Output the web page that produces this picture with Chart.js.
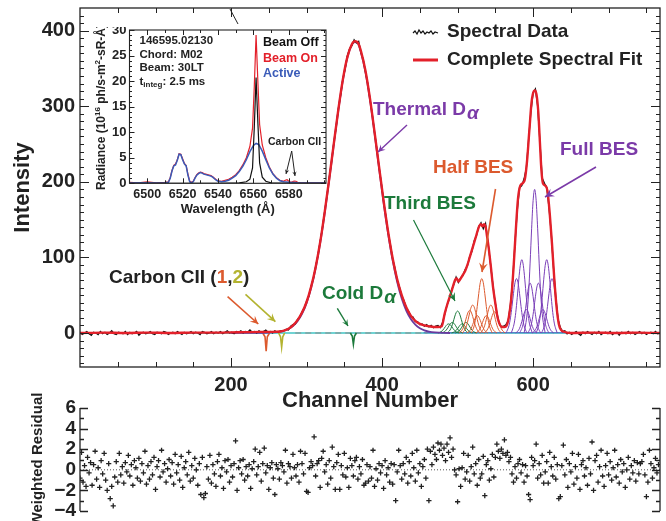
<!DOCTYPE html>
<html>
<head>
<meta charset="utf-8">
<script src="https://cdn.jsdelivr.net/npm/chart.js@4"></script>
<style>
  body { margin: 0; background: #fff; }
  #wrap { position: relative; width: 666px; height: 521px; overflow: hidden; background: #fff; }
  canvas { position: absolute; }
</style>
</head>
<body>
<div id="wrap">
  <canvas id="mainChart" width="666" height="420" style="left:0;top:0;width:666px;height:420px"></canvas>
  <canvas id="residChart" width="666" height="131" style="left:0;top:390px;width:666px;height:131px"></canvas>
  <canvas id="insetChart" width="240" height="195" style="left:92px;top:27px;width:240px;height:195px"></canvas>
</div>
<script>
// ---------- main spectrum ----------
// measured spectrum, one value every 3 channels starting at channel 0
const dataStep = 3;
const spectralData = [
  1, -2, 0, 2, -1, -3, 1, 0, -2, 2,
  -1, 1, -2, 0, 3, -1, -2, 1, 0, -1,
  2, -2, 1, -1, 0, 2, -3, 0, 1, -1,
  0, 2, -1, -2, 1, 0, -1, 2, 1, -2,
  0, 1, -1, 2, 0, -2, 1, -1, 0, 2,
  -1, 1, 0, -2, 2, 1, -1, 0, 2, -1,
  1, 0, 2, -1, 1, 3, 0, 1, -1, 2,
  1, 3, 0, 2, 1, 4, 1, 2, 0, 3,
  1, 2, 4, 1, 2, 0, 3, 1, 2, 3,
  3, 5, 4, 9, 11, 12, 18, 21, 28, 33,
  42, 49, 62, 72, 88, 102, 121, 139, 161, 181,
  205, 226, 251, 271, 296, 314, 336, 349, 367, 376,
  380, 388, 384, 386, 371, 362, 345, 330, 309, 289,
  265, 244, 219, 198, 174, 155, 133, 117, 98, 86,
  70, 61, 49, 43, 33, 29, 22, 21, 15, 15,
  11, 12, 9, 11, 8, 10, 7, 9, 10, 7,
  14, 25, 37, 45, 57, 64, 74, 67, 73, 76,
  84, 89, 101, 108, 122, 129, 141, 146, 138, 145,
  122, 96, 70, 45, 27, 13, 8, 9, 11, 16,
  38, 71, 119, 162, 192, 195, 204, 218, 256, 292,
  318, 323, 300, 253, 205, 198, 193, 166, 132, 86,
  48, 18, 7, 2, 3, -1, 1, -2, 0, 2,
  -1, -3, 1, -1, 2, 0, -2, 1, -1, 2,
  -2, 0, 1, -1, 2, -2, 0, 1, -3, 1,
  0, -1, 2, -1, 1, -2, 0, 2, -1, 1,
  -2, 0, 1, -1, 2, -1, 0
];

// complete spectral fit [channel, intensity]
const spectralFit = [
  [0, 0], [30, 0.5], [60, 0], [90, 0.5], [120, 0], [150, 0.5], [180, 0.5], [210, 1], [240, 1.5],
  [255, 1.5], [265, 2], [270, 3], [276, 5.5], [282, 10], [288, 17], [294, 27], [300, 41], [306, 61],
  [312, 87], [318, 120], [324, 160], [330, 204], [336, 250], [342, 295], [348, 335], [354, 365],
  [360, 382], [364, 386], [368, 384], [372, 373], [378, 347], [384, 310], [390, 266], [396, 220],
  [402, 175], [408, 134], [414, 99], [420, 71], [426, 50], [432, 34], [438, 23], [444, 16], [450, 12],
  [456, 10], [462, 9], [468, 8], [474, 8], [479, 9], [483, 26], [487, 40], [491, 52], [494, 62],
  [497, 71], [499, 72], [501, 68], [504, 72], [507, 77], [510, 82], [513, 90], [516, 100], [519, 110],
  [522, 120], [525, 130], [528, 140], [531, 144], [533, 141], [535, 144], [537, 141], [539, 128],
  [541, 114], [544, 88], [547, 60], [550, 39], [553, 20], [556, 11], [559, 8], [562, 8], [565, 10],
  [568, 22], [571, 45], [574, 85], [577, 135], [580, 178], [583, 195], [586, 198], [589, 203],
  [592, 228], [595, 268], [598, 306], [601, 320], [603, 321], [605, 312], [607, 290], [609, 252],
  [611, 215], [613, 198], [616, 195], [619, 188], [622, 158], [625, 118], [628, 72], [631, 35],
  [634, 12], [637, 4], [640, 2], [650, 0], [680, 0.5], [710, 0], [740, 0.5], [768, 0]
];

const thermalDalpha = [
  [200, 0], [250, 0.5], [270, 2.8], [276, 5.2], [282, 9.2], [288, 15.6], [294, 25.3], [300, 39.5],
  [306, 59.4], [312, 85.7], [318, 118.8], [324, 158.3], [330, 202.6], [336, 249.1], [342, 294.2],
  [348, 333.9], [354, 364.2], [360, 381.6], [364, 385], [368, 383], [372, 371.6], [378, 345.3],
  [384, 308.3], [390, 264.5], [396, 218], [402, 172.6], [408, 131.3], [414, 96], [420, 67.4],
  [426, 45.5], [432, 29.5], [438, 18.4], [444, 11], [450, 6.3], [456, 3.5], [462, 1.9], [470, 0.8], [490, 0]
];

// fitted beam-emission components [channel, intensity]
const thirdBes = [
  [[474, 0], [476, 0.7], [478, 1.6], [480, 3.3], [482, 5.8], [484, 8.7], [486, 11.1], [488, 12], [490, 11.1], [492, 8.7], [494, 5.8], [496, 3.3], [498, 1.6], [500, 0.7], [502, 0]],
  [[479, 0], [481, 0.8], [483, 1.9], [485, 3.9], [487, 6.8], [489, 10.2], [491, 12.9], [493, 14], [495, 12.9], [497, 10.2], [499, 6.8], [501, 3.9], [503, 1.9], [505, 0.8], [507, 0]],
  [[486, 0], [488, 1.6], [490, 3.9], [492, 8.1], [494, 14.1], [496, 21.1], [498, 26.8], [500, 29], [502, 26.8], [504, 21.1], [506, 14.1], [508, 8.1], [510, 3.9], [512, 1.6], [514, 0]],
  [[492, 0], [494, 0.7], [496, 1.6], [498, 3.3], [500, 5.8], [502, 8.7], [504, 11.1], [506, 12], [508, 11.1], [510, 8.7], [512, 5.8], [514, 3.3], [516, 1.6], [518, 0.7], [520, 0]],
  [[497, 0], [499, 0.8], [501, 1.9], [503, 3.9], [505, 6.8], [507, 10.2], [509, 12.9], [511, 14], [513, 12.9], [515, 10.2], [517, 6.8], [519, 3.9], [521, 1.9], [523, 0.8], [525, 0]]
];

const halfBes = [
  [[502, 0], [504, 1.7], [506, 4.1], [508, 8.3], [510, 14.6], [512, 21.8], [514, 27.7], [516, 30], [518, 27.7], [520, 21.8], [522, 14.6], [524, 8.3], [526, 4.1], [528, 1.7], [530, 0]],
  [[506, 0], [508, 2.1], [510, 5], [512, 10.3], [514, 18], [516, 26.9], [518, 34.2], [520, 37], [522, 34.2], [524, 26.9], [526, 18], [528, 10.3], [530, 5], [532, 2.1], [534, 0]],
  [[512, 0], [514, 1.3], [516, 3.1], [518, 6.4], [520, 11.2], [522, 16.7], [524, 21.2], [526, 23], [528, 21.2], [530, 16.7], [532, 11.2], [534, 6.4], [536, 3.1], [538, 1.3], [540, 0]],
  [[518, 0], [520, 4], [522, 9.7], [524, 20], [526, 35.1], [528, 52.3], [530, 66.5], [532, 72], [534, 66.5], [536, 52.3], [538, 35.1], [540, 20], [542, 9.7], [544, 4], [546, 0]],
  [[524, 0], [526, 1.3], [528, 3.1], [530, 6.4], [532, 11.2], [534, 16.7], [536, 21.2], [538, 23], [540, 21.2], [542, 16.7], [544, 11.2], [546, 6.4], [548, 3.1], [550, 1.3], [552, 0]],
  [[530, 0], [532, 2.1], [534, 5], [536, 10.3], [538, 18], [540, 26.9], [542, 34.2], [544, 37], [546, 34.2], [548, 26.9], [550, 18], [552, 10.3], [554, 5], [556, 2.1], [558, 0]],
  [[535, 0], [537, 1.6], [539, 3.8], [541, 7.8], [543, 13.6], [545, 20.3], [547, 25.8], [549, 28], [551, 25.8], [553, 20.3], [555, 13.6], [557, 7.8], [559, 3.8], [561, 1.6], [563, 0]]
];

const fullBes = [
  [[564, 0], [566, 4], [568, 9.7], [570, 20], [572, 35.1], [574, 52.3], [576, 66.5], [578, 72], [580, 66.5], [582, 52.3], [584, 35.1], [586, 20], [588, 9.7], [590, 4], [592, 0]],
  [[571, 0], [573, 5.4], [575, 13.1], [577, 27], [579, 47.2], [581, 70.4], [583, 89.5], [585, 97], [587, 89.5], [589, 70.4], [591, 47.2], [593, 27], [595, 13.1], [597, 5.4], [599, 0]],
  [[577, 0], [579, 1.7], [581, 4.2], [583, 8.6], [585, 15.1], [587, 22.5], [589, 28.6], [591, 31], [593, 28.6], [595, 22.5], [597, 15.1], [599, 8.6], [601, 4.2], [603, 1.7], [605, 0]],
  [[582, 0], [584, 3.7], [586, 8.9], [588, 18.3], [590, 32.1], [592, 47.9], [594, 60.9], [596, 66], [598, 60.9], [600, 47.9], [602, 32.1], [604, 18.3], [606, 8.9], [608, 3.7], [610, 0]],
  [[588, 0], [590, 10.6], [592, 25.7], [594, 52.8], [596, 92.5], [598, 137.9], [600, 175.4], [602, 190], [604, 175.4], [606, 137.9], [608, 92.5], [610, 52.8], [612, 25.7], [614, 10.6], [616, 0]],
  [[593, 0], [595, 3.7], [597, 8.9], [599, 18.3], [601, 32.1], [603, 47.9], [605, 60.9], [607, 66], [609, 60.9], [611, 47.9], [613, 32.1], [615, 18.3], [617, 8.9], [619, 3.7], [621, 0]],
  [[599, 0], [601, 1.7], [603, 4.2], [605, 8.6], [607, 15.1], [609, 22.5], [611, 28.6], [613, 31], [615, 28.6], [617, 22.5], [619, 15.1], [621, 8.6], [623, 4.2], [625, 1.7], [627, 0]],
  [[604, 0], [606, 5.4], [608, 13.1], [610, 27], [612, 47.2], [614, 70.4], [616, 89.5], [618, 97], [620, 89.5], [622, 70.4], [624, 47.2], [626, 27], [628, 13.1], [630, 5.4], [632, 0]],
  [[611, 0], [613, 4], [615, 9.7], [617, 20], [619, 35.1], [621, 52.3], [623, 66.5], [625, 72], [627, 66.5], [629, 52.3], [631, 35.1], [633, 20], [635, 9.7], [637, 4], [639, 0]]
];

const carbonLine1 = [[242, 0], [245, -5], [246.5, -24], [248, -5], [251, 0]];
const carbonLine2 = [[263, 0], [265.5, -5], [267, -19], [268.5, -5], [271, 0]];
const coldDalpha = [[358, 0], [360.5, -4], [362, -15], [363.5, -4], [366, 0]];
const cyanBaseline = [[60, 0], [768, 0]];
const grayBaseline = [[285, 0], [460, 0]];
const blueBaseline = [[455, 0.3], [650, 0.3]];

// weighted residual, one value every 2 channels starting at channel 0
const residualStep = 2;
const weightedResidual = [
  -0.8, 1.7, -1.2, 0.4, -1.6, 1.2, -0.3, 0.7, -1.5, 0.5, 1.8, -0.9, 0.2, -1.7, 0.9, -0.4,
  1.6, -1.0, -2.0, 0.6, -2.8, -1.6, -3.5, -0.7, 0.8, -1.2, 1.6, -0.5, 0.3, -1.3, 0.7, -0.2,
  1.4, -0.6, 0.5, -1.5, 0.9, 0.2, -0.8, 1.1, -1.1, 0.6, -0.3, 1.8, -1.4, 0.4, -0.9, 0.8,
  -0.5, 1.2, -1.9, 0.3, 0.9, -0.7, 1.9, -0.2, 0.6, -1.2, 0.1, 1.0, -0.6, 0.7, -1.4, 1.5,
  -0.3, 0.5, -1.0, 1.3, -1.7, 0.2, 0.8, -0.5, 1.7, -1.1, 0.4, -0.8, 1.1, 0.0, -1.5, 0.6,
  -2.4, 1.2, -2.7, -2.3, 0.3, -0.9, 1.4, -1.3, 0.5, -0.4, -1.6, 0.8, 1.5, -0.6, 0.2, -1.8,
  0.9, -0.2, 1.0, -1.2, 0.4, -0.7, 0.6, 2.8, -2.0, 0.2, 0.9, -0.4, 1.0, -1.0, 0.3, -0.6,
  0.5, -1.8, 0.1, 0.8, 2.0, -0.5, 0.3, 1.7, -1.1, 0.6, 2.1, -0.3, 0.4, -1.9, 0.2, 0.7,
  -0.8, -2.4, 0.5, 0.1, -0.9, 0.7, 0.4, -0.2, 1.9, -1.3, 0.6, 0.3, -0.8, 1.5, 0.2, -0.6,
  0.5, -1.2, 1.8, 0.6, -0.4, 1.6, -2.1, -2.2, 0.2, 0.8, 0.4, 3.2, -0.6, 0.6, 0.9, -1.7,
  1.1, 1.8, -0.2, 0.5, -1.4, 0.9, -0.8, 2.2, 0.3, -1.9, 0.7, 1.5, -1.9, 0.4, -0.5, 1.6,
  -0.7, 0.2, -1.7, 1.1, 0.4, -0.6, 0.9, 1.2, -0.9, 0.3, -0.4, 1.0, -1.5, -1.3, 0.5, -1.1,
  0.3, -0.8, 1.9, -1.6, 0.1, -1.0, 0.6, -0.3, 0.4, -1.8, 0.9, -0.5, 0.2, -1.2, 0.6, -1.4,
  0.5, -3.0, -0.2, 1.9, 0.4, -0.9, 0.6, -0.4, 1.2, -1.3, 0.8, -0.6, 1.6, 0.2, -1.1, 1.9,
  -0.3, 0.6, -1.6, 0.3, 1.0, -0.8, 2.0, -3.0, 1.8, 0.5, 2.2, 1.5, 1.0, 2.6, 1.9, 2.5,
  1.4, 2.1, 0.9, 2.5, 1.7, 3.1, 1.2, 2.0, 0.0, -0.5, -3.1, 0.1, -1.6, 0.2, 1.6, -0.9,
  -0.2, 1.4, -1.1, 0.3, 2.2, -0.4, 0.6, -1.5, 1.0, -0.8, -0.4, 1.3, -2.5, 0.5, 0.9, -1.0,
  0.1, 1.5, -0.7, 1.2, 2.5, 1.8, 1.1, 2.0, 1.6, 2.9, 1.4, 1.7, 0.8, 1.2, -0.4, -1.2,
  0.3, -0.8, 0.6, 1.0, -0.3, 0.5, -1.2, 0.4, -0.6, -2.4, -2.9, 1.2, 0.4, 0.9, 2.5, -0.8,
  0.6, -0.5, 1.4, -1.3, -0.2, 0.8, -1.3, 1.7, 0.3, -0.6, 1.2, -0.9, 0.5, -2.8, -2.6, 0.4,
  2.4, -0.5, 1.0, -1.7, 0.6, -0.2, 1.6, -1.4, 0.3, -0.8, 1.5, -1.9, 0.5, 0.9, -0.6, 0.2,
  -1.5, 1.1, -0.4, 2.7, -2.0, 0.9, 1.4, -1.2, 0.3, 1.9, -0.6, -1.6, 0.4, 1.6, -0.5, 0.8,
  -1.0, 0.2, 1.9, -0.7, 0.5, -1.3, 1.0, -0.2, 0.6, -1.7, 0.0, 1.2, -0.9, 0.4, -0.3, 0.9,
  -1.1, 0.7, -0.4, 0.6, 0.8, 1.5, -0.5, -2.6, -1.2, 1.9, 0.6, -0.8, 0.2, 1.1, -0.3, 0.5
];

const channelTicks = [200, 400, 600];
const intensityTicks = [0, 100, 200, 300, 400];
const residualTicks = [-4, -2, 0, 2, 4, 6];

// ---------- inset: radiance vs wavelength ----------
const beamOff = [
  [6490, 0], [6540, 0], [6552, 0.1], [6556, 0.3], [6558, 0.8], [6559.5, 3], [6560.5, 11], [6561.5, 20.7],
  [6562.5, 12], [6563.5, 4], [6565, 1.2], [6567, 0.4], [6570, 0.1], [6580, 0], [6601, 0]
];
const beamOn = [
  [6490, 0.2], [6495, 0.1], [6500, 0.3], [6505, 0.1], [6510, 0.2], [6512, 0.3], [6513, 1.1], [6514, 2.5],
  [6515, 3.5], [6516, 3.8], [6517, 4.6], [6518, 5.8], [6519, 5.7], [6520, 4.8], [6521, 3.9], [6522, 3.5],
  [6523, 1.8], [6524, 0.4], [6525, 0.2], [6526, 0.4], [6527, 1.1], [6528, 1.7], [6529, 2.0], [6530, 2.2],
  [6531, 2.1], [6532, 1.9], [6533, 1.8], [6534, 1.7], [6535, 1.6], [6536, 1.5], [6537, 1.3], [6538, 1.0],
  [6539, 0.7], [6540, 0.5], [6542, 0.4], [6544, 0.6], [6546, 0.8], [6548, 1.2], [6550, 1.7], [6552, 2.5],
  [6554, 3.6], [6556, 5.0], [6558, 7.2], [6559.5, 10.8], [6560.5, 19], [6561.5, 29], [6562.5, 20],
  [6563.5, 11.5], [6565, 7.5], [6567, 5.0], [6569, 3.2], [6571, 1.9], [6573, 1.1], [6575, 0.6], [6577, 0.4],
  [6578, 0.6], [6579, 0.7], [6580, 0.4], [6581, 0.2], [6582, 0.3], [6583, 0.45], [6584, 0.4], [6585, 0.2],
  [6587, 0.1], [6601, 0.1]
];
const active = [
  [6490, 0.05], [6500, 0.1], [6505, 0.05], [6510, 0.1], [6512, 0.2], [6513, 1.0], [6514, 2.4], [6515, 3.4],
  [6516, 3.6], [6517, 4.5], [6518, 5.7], [6519, 5.6], [6520, 4.6], [6521, 3.8], [6522, 3.4], [6523, 1.6],
  [6524, 0.3], [6525, 0.1], [6526, 0.3], [6527, 1.0], [6528, 1.6], [6529, 1.9], [6530, 2.1], [6531, 2.0],
  [6532, 1.8], [6533, 1.7], [6534, 1.6], [6535, 1.5], [6536, 1.4], [6537, 1.2], [6538, 0.9], [6539, 0.6],
  [6540, 0.4], [6542, 0.3], [6544, 0.4], [6546, 0.6], [6548, 1.0], [6550, 1.5], [6552, 2.3], [6554, 3.3],
  [6556, 4.6], [6558, 6.2], [6560, 7.4], [6561.5, 7.8], [6563, 7.6], [6565, 6.3], [6567, 4.6], [6569, 3.0],
  [6571, 1.8], [6573, 1.0], [6575, 0.5], [6577, 0.3], [6580, 0.2], [6585, 0.1], [6601, 0.05]
];
const wavelengthTicks = [6500, 6520, 6540, 6560, 6580];
const radianceTicks = [0, 5, 10, 15, 20, 25, 30];

// ---------- helpers ----------
const FONT = '"Liberation Sans", Arial, Helvetica, sans-serif';
const INK = '#222';
const PURPLE = '#7b3aa8';
const ORANGE = '#dc5a2e';
const GREEN = '#1c7a3b';
const OLIVE = '#b3b330';
const RED = '#e3202a';
const BLUE = '#3a5bb8';

Chart.defaults.font.family = FONT;
Chart.defaults.font.weight = 'bold';
Chart.defaults.color = INK;

function pts(pairs) {
  return pairs.map(p => ({ x: p[0], y: p[1] }));
}

function line(pairs, color, width, order, extra) {
  return Object.assign({
    data: pts(pairs), showLine: true, borderColor: color, borderWidth: width,
    pointRadius: 0, fill: false, order: order
  }, extra || {});
}

// keep the plot box exactly where the layout padding puts it
function noLabelPadding(axis) {
  axis.paddingTop = 0; axis.paddingBottom = 0;
  axis.paddingLeft = 0; axis.paddingRight = 0;
}

function text(ctx, s, x, y, color, size, align, style) {
  ctx.fillStyle = color;
  ctx.font = (style || 'bold') + ' ' + size + 'px ' + FONT;
  ctx.textAlign = align || 'left';
  ctx.textBaseline = 'middle';
  ctx.fillText(s, x, y);
  return ctx.measureText(s).width;
}

// "D" followed by a lowered italic alpha
function dAlpha(ctx, prefix, x, y, color, size) {
  const w = text(ctx, prefix, x, y, color, size);
  text(ctx, '\u03b1', x + w + 1, y + 4, color, size, 'left', 'italic bold');
}

function arrow(ctx, x1, y1, x2, y2, color, width, head) {
  ctx.save();
  ctx.strokeStyle = color; ctx.fillStyle = color; ctx.lineWidth = width;
  ctx.beginPath(); ctx.moveTo(x1, y1); ctx.lineTo(x2, y2); ctx.stroke();
  if (head) {
    const a = Math.atan2(y2 - y1, x2 - x1);
    ctx.beginPath();
    ctx.moveTo(x2, y2);
    ctx.lineTo(x2 - head * Math.cos(a - 0.45), y2 - head * Math.sin(a - 0.45));
    ctx.lineTo(x2 - head * 0.55 * Math.cos(a), y2 - head * 0.55 * Math.sin(a));
    ctx.lineTo(x2 - head * Math.cos(a + 0.45), y2 - head * Math.sin(a + 0.45));
    ctx.closePath(); ctx.fill();
  }
  ctx.restore();
}

// ---------- main chart ----------
const mainDatasets = [
  line(spectralFit, RED, 2.4, 1, { cubicInterpolationMode: 'monotone' }),
  line(spectralData.map((v, i) => [i * dataStep, v]), '#111', 1.3, 2),
  line(thermalDalpha, '#6a3a9e', 1.8, 3, { cubicInterpolationMode: 'monotone' }),
  line(carbonLine1, ORANGE, 1.6, 4),
  line(carbonLine2, OLIVE, 1.6, 4),
  line(coldDalpha, GREEN, 1.6, 4),
  line(cyanBaseline, '#3fc4c4', 1.4, 7),
  line(grayBaseline, '#8a8a8a', 1.2, 6, { borderDash: [6, 4] }),
  line(blueBaseline, '#4a6cc0', 1.2, 6)
];
fullBes.forEach(c => mainDatasets.push(line(c, '#7a3fb8', 1, 5, { cubicInterpolationMode: 'monotone' })));
halfBes.forEach(c => mainDatasets.push(line(c, ORANGE, 1, 5, { cubicInterpolationMode: 'monotone' })));
thirdBes.forEach(c => mainDatasets.push(line(c, GREEN, 1, 5, { cubicInterpolationMode: 'monotone' })));

const mainDecor = {
  id: 'mainDecor',
  afterDraw(chart) {
    const ctx = chart.ctx, a = chart.chartArea, xs = chart.scales.x, ys = chart.scales.y;
    ctx.save();
    // box and inward ticks
    ctx.strokeStyle = INK; ctx.lineWidth = 1.3;
    ctx.strokeRect(a.left, a.top, a.right - a.left, a.bottom - a.top);
    ctx.lineWidth = 1;
    ctx.beginPath();
    for (let v = 50; v < 768; v += 50) {
      const len = channelTicks.includes(v) ? 9 : 5;
      const px = Math.round(xs.getPixelForValue(v)) + 0.5;
      ctx.moveTo(px, a.bottom); ctx.lineTo(px, a.bottom - len);
      ctx.moveTo(px, a.top); ctx.lineTo(px, a.top + len);
    }
    for (let v = -40; v <= 420; v += 10) {
      const len = v % 100 === 0 ? 9 : 4;
      const py = Math.round(ys.getPixelForValue(v)) + 0.5;
      ctx.moveTo(a.left, py); ctx.lineTo(a.left + len, py);
      ctx.moveTo(a.right, py); ctx.lineTo(a.right - len, py);
    }
    ctx.stroke();

    // stray mark at top of frame
    arrow(ctx, 230, 9, 238, 24, INK, 1, 0);

    // legend
    ctx.strokeStyle = '#111'; ctx.lineWidth = 1.2;
    ctx.beginPath();
    [[0, 0], [2, -2], [4, 1], [6, -3], [8, 0], [10, -2], [12, 1], [14, -1], [16, 0], [18, -2], [20, 1], [22, -1], [25, 0]]
      .forEach((p, i) => i ? ctx.lineTo(413 + p[0], 33 + p[1]) : ctx.moveTo(413 + p[0], 33 + p[1]));
    ctx.stroke();
    ctx.strokeStyle = RED; ctx.lineWidth = 3;
    ctx.beginPath(); ctx.moveTo(413, 60); ctx.lineTo(438, 60); ctx.stroke();
    text(ctx, 'Spectral Data', 447, 32, INK, 19);
    text(ctx, 'Complete Spectral Fit', 447, 60, INK, 19);

    // component labels
    dAlpha(ctx, 'Thermal D', 373, 110, PURPLE, 19);
    arrow(ctx, 407, 125, 378, 152, PURPLE, 1.4, 8);
    text(ctx, 'Full BES', 560, 150, PURPLE, 19);
    arrow(ctx, 596, 167, 545, 197, PURPLE, 1.6, 10);
    text(ctx, 'Half BES', 433, 168, ORANGE, 19);
    arrow(ctx, 495.5, 189, 482, 272, ORANGE, 1.6, 10);
    text(ctx, 'Third BES', 384, 204, GREEN, 19);
    arrow(ctx, 413.5, 220, 455, 301, GREEN, 1.2, 9);

    let x = 109;
    x += text(ctx, 'Carbon CII (', x, 278, INK, 19);
    x += text(ctx, '1', x, 278, ORANGE, 19);
    x += text(ctx, ',', x, 278, INK, 19);
    x += text(ctx, '2', x, 278, OLIVE, 19);
    text(ctx, ')', x, 278, INK, 19);
    arrow(ctx, 227.6, 296.7, 258.3, 324, ORANGE, 1.6, 9);
    arrow(ctx, 245.5, 294.3, 275.4, 321.7, OLIVE, 1.6, 9);

    dAlpha(ctx, 'Cold D', 322, 294, GREEN, 19);
    arrow(ctx, 337.3, 308.3, 348, 326, GREEN, 1.4, 7);
    ctx.restore();
  }
};

new Chart(document.getElementById('mainChart'), {
  type: 'scatter',
  data: { datasets: mainDatasets },
  options: {
    responsive: false, animation: false, devicePixelRatio: 1,
    layout: { padding: { top: 8, right: 6, left: 0, bottom: 0 } },
    plugins: { legend: { display: false }, tooltip: { enabled: false } },
    scales: {
      x: {
        type: 'linear', min: 0, max: 768,
        afterBuildTicks: axis => { axis.ticks = channelTicks.map(v => ({ value: v })); },
        afterFit: axis => { axis.height = 53; noLabelPadding(axis); },
        grid: { display: false, drawTicks: false },
        border: { display: false },
        ticks: { padding: 6, autoSkip: false, maxRotation: 0, color: INK, font: { size: 20, weight: 'bold' } },
        title: { display: true, text: 'Channel Number', color: INK, font: { size: 22, weight: 'bold' }, padding: { top: 0, bottom: 6 } }
      },
      y: {
        type: 'linear', min: -45, max: 430,
        afterBuildTicks: axis => { axis.ticks = intensityTicks.map(v => ({ value: v })); },
        afterFit: axis => { axis.width = 80; noLabelPadding(axis); },
        grid: { display: false, drawTicks: false },
        border: { display: false },
        ticks: { padding: 5, autoSkip: false, color: INK, font: { size: 20, weight: 'bold' } },
        title: { display: true, text: 'Intensity', color: INK, font: { size: 22, weight: 'bold' }, padding: { top: 10, bottom: 0 } }
      }
    }
  },
  plugins: [mainDecor]
});

// ---------- residual chart ----------
const residDecor = {
  id: 'residDecor',
  afterDraw(chart) {
    const ctx = chart.ctx, a = chart.chartArea, ys = chart.scales.y;
    ctx.save();
    ctx.strokeStyle = INK; ctx.lineWidth = 1.3;
    ctx.beginPath();
    ctx.moveTo(a.left, a.top); ctx.lineTo(a.left, a.bottom);
    ctx.moveTo(a.right, a.top); ctx.lineTo(a.right, a.bottom);
    for (let v = -4; v <= 6; v++) {
      const len = v % 2 === 0 ? 8 : 4;
      const py = Math.round(ys.getPixelForValue(v)) + 0.5;
      ctx.moveTo(a.left, py); ctx.lineTo(a.left + len, py);
      ctx.moveTo(a.right, py); ctx.lineTo(a.right - len, py);
    }
    ctx.stroke();
    ctx.restore();
  }
};

new Chart(document.getElementById('residChart'), {
  type: 'scatter',
  data: {
    datasets: [
      {
        data: weightedResidual.map((v, i) => ({ x: i * residualStep, y: v })),
        pointStyle: 'cross', pointRadius: 2.6, borderWidth: 1.3,
        borderColor: '#222', backgroundColor: '#222', order: 1
      },
      line([[0, 0], [768, 0]], '#555', 1, 2, { borderDash: [1, 2] })
    ]
  },
  options: {
    responsive: false, animation: false, devicePixelRatio: 1,
    layout: { padding: { top: 18, right: 6, left: 0, bottom: 10 } },
    plugins: { legend: { display: false }, tooltip: { enabled: false } },
    scales: {
      x: { type: 'linear', min: 0, max: 768, display: false },
      y: {
        type: 'linear', min: -4, max: 6,
        afterBuildTicks: axis => { axis.ticks = residualTicks.map(v => ({ value: v })); },
        afterFit: axis => { axis.width = 80; noLabelPadding(axis); },
        grid: { display: false, drawTicks: false },
        border: { display: false },
        ticks: {
          padding: 4, autoSkip: false, color: INK, font: { size: 19, weight: 'bold' },
          callback: v => (v < 0 ? '\u2212' + Math.abs(v) : String(v))
        },
        title: { display: true, text: 'Weighted Residual', color: INK, font: { size: 15, weight: 'bold' }, padding: { top: 29, bottom: 0 } }
      }
    }
  },
  plugins: [residDecor]
});

// ---------- inset chart ----------
const insetDecor = {
  id: 'insetDecor',
  afterDraw(chart) {
    const ctx = chart.ctx, a = chart.chartArea, xs = chart.scales.x, ys = chart.scales.y;
    ctx.save();
    ctx.strokeStyle = INK; ctx.lineWidth = 1.1;
    ctx.strokeRect(a.left, a.top, a.right - a.left, a.bottom - a.top);
    ctx.lineWidth = 1;
    ctx.beginPath();
    for (let v = 6500; v <= 6600; v += 10) {
      const len = wavelengthTicks.includes(v) ? 5 : 3;
      const px = Math.round(xs.getPixelForValue(v)) + 0.5;
      ctx.moveTo(px, a.bottom); ctx.lineTo(px, a.bottom - len);
      ctx.moveTo(px, a.top); ctx.lineTo(px, a.top + len);
    }
    for (let v = 0; v <= 30; v += 1) {
      const len = v % 5 === 0 ? 5 : 2.5;
      const py = Math.round(ys.getPixelForValue(v)) + 0.5;
      ctx.moveTo(a.left, py); ctx.lineTo(a.left + len, py);
      ctx.moveTo(a.right, py); ctx.lineTo(a.right - len, py);
    }
    ctx.stroke();

    // page coordinates from here on
    ctx.translate(-92, -27);
    text(ctx, '146595.02130', 139.5, 41, INK, 11.5);
    text(ctx, 'Chord: M02', 139.5, 54.5, INK, 11.5);
    text(ctx, 'Beam: 30LT', 139.5, 68, INK, 11.5);
    let x = 139.5;
    x += text(ctx, 't', x, 81.5, INK, 11.5);
    x += text(ctx, 'integ', x, 85, INK, 8);
    text(ctx, ': 2.5 ms', x, 81.5, INK, 11.5);

    text(ctx, 'Beam Off', 263, 43, '#111', 12.5);
    text(ctx, 'Beam On', 263, 58.5, RED, 12.5);
    text(ctx, 'Active', 263, 73.5, BLUE, 12.5);

    text(ctx, 'Carbon CII', 268, 142, INK, 10.5);
    arrow(ctx, 291.7, 151, 286, 174, INK, 1, 5);
    arrow(ctx, 291.7, 151, 295, 176, INK, 1, 5);

    // rotated axis title with superscripts
    ctx.save();
    ctx.translate(102, 107);
    ctx.rotate(-Math.PI / 2);
    const parts = [['Radiance (10', 12, 0], ['16', 8, -4], [' ph/s-m', 12, 0], ['2', 8, -4], ['-sR-\u00c5)', 12, 0]];
    let total = 0;
    parts.forEach(p => { ctx.font = 'bold ' + p[1] + 'px ' + FONT; total += ctx.measureText(p[0]).width; });
    let px = -total / 2;
    parts.forEach(p => { px += text(ctx, p[0], px, p[2], INK, p[1]); });
    ctx.restore();
    ctx.restore();
  }
};

new Chart(document.getElementById('insetChart'), {
  type: 'scatter',
  data: {
    datasets: [
      line(beamOff, '#111', 1.2, 1),
      line(active, BLUE, 1.5, 2),
      line(beamOn, RED, 1.2, 3)
    ]
  },
  options: {
    responsive: false, animation: false, devicePixelRatio: 1,
    layout: { padding: { top: 3, right: 6, left: 0, bottom: 0 } },
    plugins: { legend: { display: false }, tooltip: { enabled: false } },
    scales: {
      x: {
        type: 'linear', min: 6490, max: 6601,
        afterBuildTicks: axis => { axis.ticks = wavelengthTicks.map(v => ({ value: v })); },
        afterFit: axis => { axis.height = 38.7; noLabelPadding(axis); },
        grid: { display: false, drawTicks: false },
        border: { display: false },
        ticks: { padding: 4, autoSkip: false, maxRotation: 0, color: INK, font: { size: 12.5, weight: 'bold' }, callback: v => String(v) },
        title: { display: true, text: 'Wavelength (\u00c5)', color: INK, font: { size: 13, weight: 'bold' }, padding: { top: 0, bottom: 5 } }
      },
      y: {
        type: 'linear', min: 0, max: 30,
        afterBuildTicks: axis => { axis.ticks = radianceTicks.map(v => ({ value: v })); },
        afterFit: axis => { axis.width = 37.5; noLabelPadding(axis); },
        grid: { display: false, drawTicks: false },
        border: { display: false },
        ticks: { padding: 3, autoSkip: false, color: INK, font: { size: 13, weight: 'bold' }, callback: v => String(v) }
      }
    }
  },
  plugins: [insetDecor]
});
</script>
</body>
</html>
